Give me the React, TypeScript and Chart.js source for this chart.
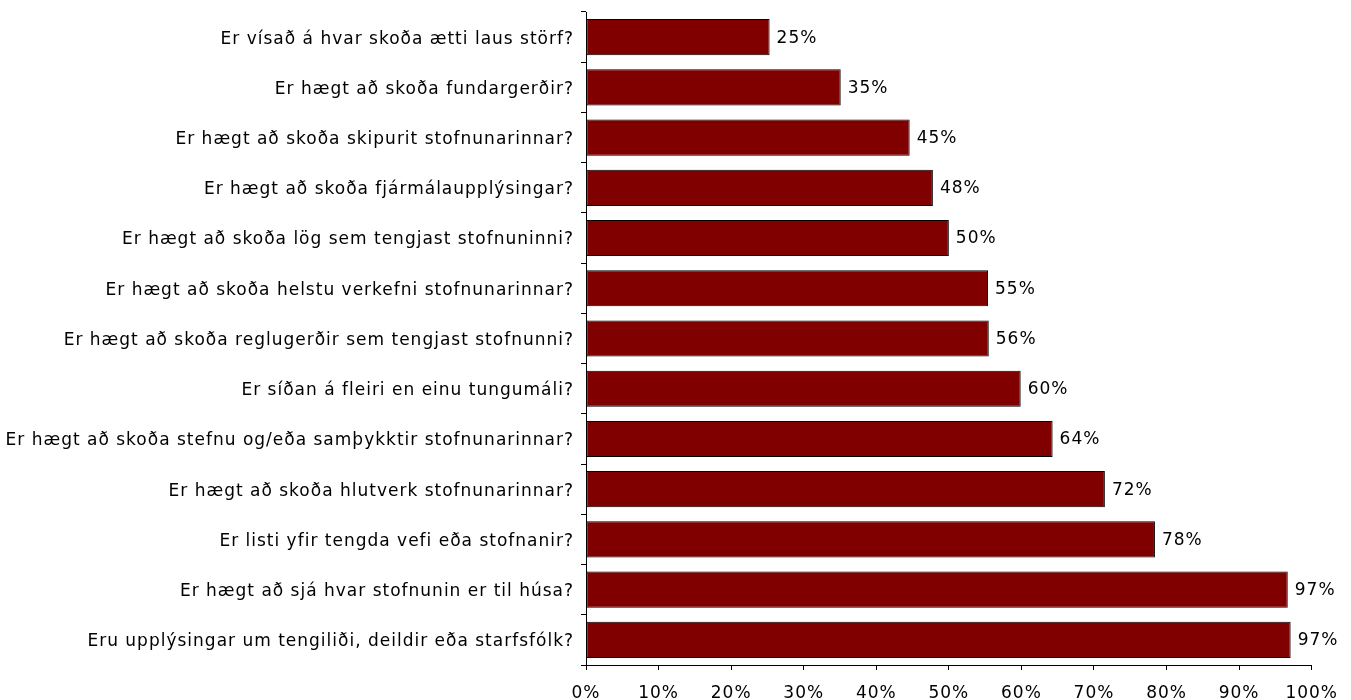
import React, { useEffect, useRef } from "react";
import { Chart, registerables } from "chart.js";

Chart.register(...registerables);

const categories = [
  "Er vísað á hvar skoða ætti laus störf?",
  "Er hægt að skoða fundargerðir?",
  "Er hægt að skoða skipurit stofnunarinnar?",
  "Er hægt að skoða fjármálaupplýsingar?",
  "Er hægt að skoða lög sem tengjast stofnuninni?",
  "Er hægt að skoða helstu verkefni stofnunarinnar?",
  "Er hægt að skoða reglugerðir sem tengjast stofnunni?",
  "Er síðan á fleiri en einu tungumáli?",
  "Er hægt að skoða stefnu og/eða samþykktir stofnunarinnar?",
  "Er hægt að skoða hlutverk stofnunarinnar?",
  "Er listi yfir tengda vefi eða stofnanir?",
  "Er hægt að sjá hvar stofnunin er til húsa?",
  "Eru upplýsingar um tengiliði, deildir eða starfsfólk?",
];

const values = [25.3, 35.1, 44.6, 47.8, 50.0, 55.4, 55.5, 59.9, 64.3, 71.5, 78.4, 96.7, 97.1];

const xTicks = [0, 10, 20, 30, 40, 50, 60, 70, 80, 90, 100];

const FONT = "'DejaVu Sans', Verdana, sans-serif";
const FONT_SIZE = 17;
const LETTER_SPACING = "1px";

const spacingPlugin = {
  id: "letterSpacing",
  beforeLayout(chart: any) {
    chart.ctx.letterSpacing = LETTER_SPACING;
  },
  beforeDraw(chart: any) {
    chart.ctx.letterSpacing = LETTER_SPACING;
  },
};

const valueLabelPlugin = {
  id: "valueLabels",
  afterDatasetsDraw(chart: any) {
    const ctx = chart.ctx;
    const meta = chart.getDatasetMeta(0);
    ctx.save();
    ctx.letterSpacing = LETTER_SPACING;
    ctx.font = `${FONT_SIZE}px ${FONT}`;
    ctx.fillStyle = "#000";
    ctx.textAlign = "left";
    ctx.textBaseline = "middle";
    meta.data.forEach((bar: any, i: number) => {
      ctx.fillText(Math.round(values[i]) + "%", bar.x + 7, bar.y + 1);
    });
    ctx.restore();
  },
};

export default function App() {
  const ref = useRef<HTMLCanvasElement | null>(null);
  useEffect(() => {
    document.body.style.margin = "0";
    const canvas = ref.current!;
    const chart = new Chart(canvas, {
      type: "bar",
      data: {
        labels: categories,
        datasets: [
          {
            data: values,
            backgroundColor: "#800000",
            borderColor: "#000000",
            borderWidth: 1,
            borderSkipped: false,
            barPercentage: 0.72,
            categoryPercentage: 1,
          },
        ],
      },
      options: {
        indexAxis: "y",
        animation: false,
        responsive: false,
        devicePixelRatio: 1,
        layout: { padding: { top: 12, right: 39, left: 0, bottom: 0 } },
        plugins: { legend: { display: false }, tooltip: { enabled: false } },
        scales: {
          x: {
            min: 0,
            max: 100,
            afterBuildTicks(scale: any) {
              scale.ticks = xTicks.map((v) => ({ value: v }));
            },
            afterFit(scale: any) {
              scale.height = 35;
            },
            ticks: {
              color: "#000",
              font: { family: FONT, size: FONT_SIZE },
              padding: 13,
              maxRotation: 0,
              autoSkip: false,
              callback: (v: any) => v + "%",
            },
            grid: {
              drawOnChartArea: false,
              drawTicks: true,
              tickLength: 5,
              color: "#000",
            },
            border: { display: true, color: "#000", width: 1 },
          },
          y: {
            afterFit(scale: any) {
              scale.width = 586;
              scale.paddingTop = 0;
              scale.paddingBottom = 0;
            },
            ticks: {
              color: "#000",
              font: { family: FONT, size: FONT_SIZE },
              padding: 7,
              labelOffset: 2,
              autoSkip: false,
            },
            grid: {
              drawOnChartArea: false,
              drawTicks: true,
              tickLength: 5,
              offset: true,
              color: "#000",
            },
            border: { display: true, color: "#000", width: 1 },
          },
        },
      },
      plugins: [spacingPlugin, valueLabelPlugin],
    });
    return () => chart.destroy();
  }, []);
  return (
    <div style={{ width: 1351, height: 700 }}>
      <canvas ref={ref} width={1351} height={700} style={{ display: "block" }} />
    </div>
  );
}
